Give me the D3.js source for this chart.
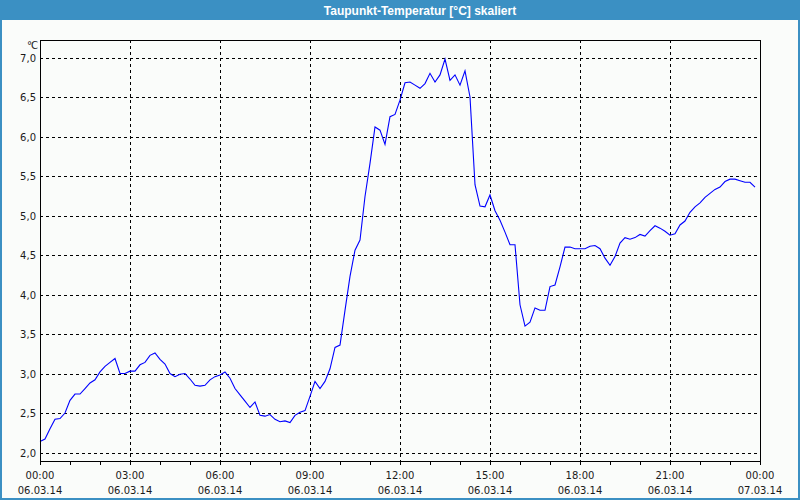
<!DOCTYPE html>
<html>
<head>
<meta charset="utf-8">
<script src="https://cdn.jsdelivr.net/npm/d3@7"></script>
<style>
  html, body { margin: 0; padding: 0; background: #ffffff; }
  svg { display: block; }
</style>
</head>
<body>
<svg id="chart" width="800" height="500"></svg>
<script>
// ---- data ----
const title = "Taupunkt-Temperatur [°C] skaliert";
const unitLabel = "°C";
const startTime = "2014-03-06T00:00:00";
const endTime = "2014-03-07T00:00:00";
const sampleMinutes = 10;
// dew point values, one every 10 minutes from 06.03.14 00:00
const dewPoint = [
  2.14, 2.17, 2.30, 2.42, 2.43, 2.50, 2.66, 2.74, 2.74, 2.81,
  2.88, 2.92, 3.02, 3.09, 3.14, 3.19, 3.00, 3.00, 3.03, 3.03,
  3.11, 3.14, 3.23, 3.26, 3.18, 3.12, 3.00, 2.96, 2.99, 3.00,
  2.93, 2.85, 2.84, 2.85, 2.92, 2.96, 2.98, 3.02, 2.94, 2.81,
  2.73, 2.65, 2.57, 2.64, 2.47, 2.46, 2.48, 2.42, 2.39, 2.40,
  2.38, 2.47, 2.51, 2.53, 2.71, 2.90, 2.81, 2.90, 3.06, 3.33,
  3.36, 3.80, 4.23, 4.56, 4.69, 5.24, 5.66, 6.12, 6.08, 5.90,
  6.25, 6.28, 6.46, 6.68, 6.69, 6.65, 6.61, 6.67, 6.80, 6.69,
  6.78, 6.98, 6.71, 6.78, 6.65, 6.83, 6.50, 5.39, 5.12, 5.11,
  5.26, 5.06, 4.94, 4.79, 4.63, 4.63, 3.87, 3.60, 3.65, 3.83,
  3.80, 3.80, 4.10, 4.12, 4.35, 4.60, 4.60, 4.58, 4.58, 4.58,
  4.61, 4.62, 4.58, 4.46, 4.37, 4.48, 4.65, 4.72, 4.70, 4.72,
  4.76, 4.74, 4.81, 4.87, 4.84, 4.80, 4.75, 4.77, 4.88, 4.93,
  5.04, 5.11, 5.16, 5.23, 5.28, 5.33, 5.36, 5.43, 5.46, 5.46,
  5.44, 5.42, 5.42, 5.36
];
const yTicks = [2.0, 2.5, 3.0, 3.5, 4.0, 4.5, 5.0, 5.5, 6.0, 6.5, 7.0];
const xLabelHours = [0, 3, 6, 9, 12, 15, 18, 21, 24];
const xMinorHours = d3.range(0, 25);

// ---- layout ----
const W = 800, H = 500;
const titleH = 20;
const frame = { left: 40, right: 760, top: 40, bottom: 461 };
const colors = { bar: "#3b90c3", bg: "#fafcfa", line: "#0000ff", text: "#1a1a1a" };

const svg = d3.select("#chart");
const t0 = new Date(startTime), t1 = new Date(endTime);
const x = d3.scaleTime().domain([t0, t1]).range([frame.left, frame.right]);
const y = d3.scaleLinear().domain([2, 7]).range([452.5, 57.5]);

// window background and border
svg.append("rect").attr("x", 0).attr("y", 0).attr("width", W).attr("height", H).attr("fill", colors.bar);
svg.append("rect").attr("x", 2).attr("y", titleH).attr("width", W - 4).attr("height", H - titleH - 2).attr("fill", colors.bg);

svg.append("text")
  .attr("x", 420).attr("y", 15)
  .attr("text-anchor", "middle")
  .attr("fill", "#ffffff")
  .style("font-family", "'Liberation Sans', Arial, sans-serif")
  .style("font-weight", "bold")
  .style("font-size", "12px")
  .text(title);

const fontFam = "'DejaVu Sans', Verdana, sans-serif";

// grid
const g = svg.append("g");
g.selectAll(".hgrid").data(yTicks).enter().append("line")
  .attr("x1", frame.left).attr("x2", frame.right)
  .attr("y1", d => Math.round(y(d)) + 0.5).attr("y2", d => Math.round(y(d)) + 0.5)
  .attr("stroke", "#000").attr("stroke-width", 1).attr("stroke-dasharray", "3,3");

const timeAt = h => d3.timeHour.offset(t0, h);
g.selectAll(".vgrid").data(xLabelHours.slice(1, -1)).enter().append("line")
  .attr("x1", d => Math.round(x(timeAt(d))) + 0.5).attr("x2", d => Math.round(x(timeAt(d))) + 0.5)
  .attr("y1", frame.top).attr("y2", frame.bottom)
  .attr("stroke", "#000").attr("stroke-width", 1).attr("stroke-dasharray", "3,3");

// data line
const series = dewPoint.map((v, i) => ({ t: d3.timeMinute.offset(t0, i * sampleMinutes), v }));
const line = d3.line().x(d => x(d.t)).y(d => y(d.v));
svg.append("path").datum(series)
  .attr("d", line)
  .attr("fill", "none")
  .attr("stroke", colors.line)
  .attr("stroke-width", 1.1);

// frame
svg.append("rect")
  .attr("x", frame.left + 0.5).attr("y", frame.top + 0.5)
  .attr("width", frame.right - frame.left).attr("height", frame.bottom - frame.top)
  .attr("fill", "none").attr("stroke", "#000").attr("stroke-width", 1);

// x minor ticks
svg.selectAll(".xtick").data(xMinorHours).enter().append("line")
  .attr("x1", d => Math.round(x(timeAt(d))) + 0.5).attr("x2", d => Math.round(x(timeAt(d))) + 0.5)
  .attr("y1", frame.bottom).attr("y2", frame.bottom + 4)
  .attr("stroke", "#000");

// x labels
const fmtTime = d3.timeFormat("%H:%M");
const fmtDate = d3.timeFormat("%d.%m.%y");
const xl = svg.selectAll(".xl").data(xLabelHours).enter().append("g")
  .attr("transform", d => `translate(${x(timeAt(d))},0)`);
xl.append("text").attr("y", 479).attr("text-anchor", "middle")
  .attr("fill", colors.text).style("font-family", fontFam).style("font-size", "10px")
  .text(d => fmtTime(timeAt(d)));
xl.append("text").attr("y", 494).attr("text-anchor", "middle")
  .attr("fill", colors.text).style("font-family", fontFam).style("font-size", "10px")
  .text(d => fmtDate(timeAt(d)));

// y labels
const fmtY = v => d3.format(".1f")(v).replace(".", ",");
svg.selectAll(".yl").data(yTicks).enter().append("text")
  .attr("x", 36).attr("y", d => y(d) + 4)
  .attr("text-anchor", "end")
  .attr("fill", colors.text).style("font-family", fontFam).style("font-size", "10px")
  .text(fmtY);

svg.append("text")
  .attr("x", 37).attr("y", 49)
  .attr("text-anchor", "end")
  .attr("fill", colors.text).style("font-family", fontFam).style("font-size", "10px")
  .style("letter-spacing", "-1px")
  .text(unitLabel);
</script>
</body>
</html>
